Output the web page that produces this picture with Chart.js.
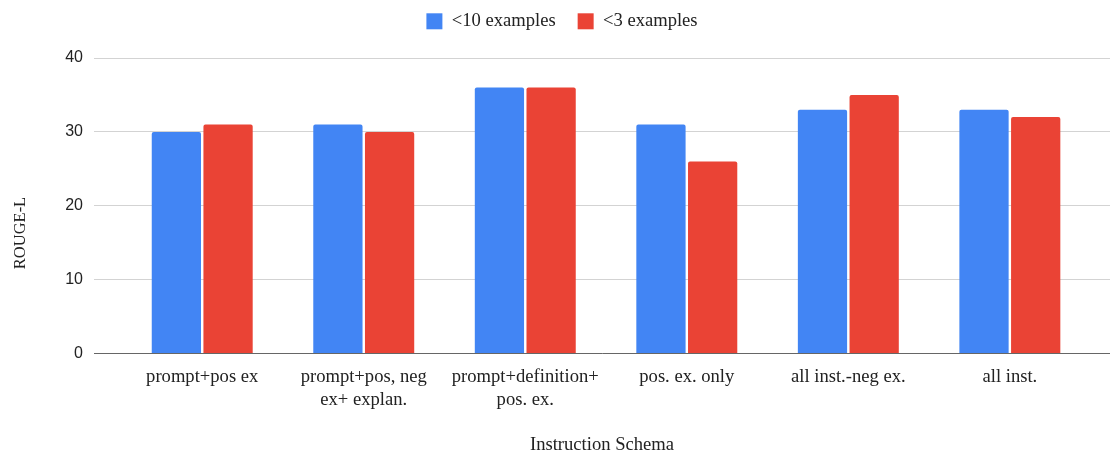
<!DOCTYPE html>
<html>
<head>
<meta charset="utf-8">
<script src="https://cdn.jsdelivr.net/npm/chart.js@4/dist/chart.umd.min.js"></script>
<style>
  html, body { margin: 0; padding: 0; background: #fff; }
  #wrap { width: 1110px; height: 456px; }
</style>
</head>
<body>
<div id="wrap"><canvas id="chart"></canvas></div>
<script>
// Instruction schema variants (x-axis labels, one entry per line)
const categories = [
  ['prompt+pos ex'],
  ['prompt+pos, neg', 'ex+ explan.'],
  ['prompt+definition+', 'pos. ex.'],
  ['pos. ex. only'],
  ['all inst.-neg ex.'],
  ['all inst.']
];

// ROUGE-L scores per schema
const underTenExamples = [30, 31, 36, 31, 33, 33];
const underThreeExamples = [31, 30, 36, 26, 35, 32];

const seriesNames = ['<10 examples', '<3 examples'];
const yTicks = [0, 10, 20, 30, 40];

const SERIF = '"Liberation Serif", "Times New Roman", serif';
const SANS = '"Liberation Sans", Arial, sans-serif';
const TEXT = '#222';

const toPoints = vals => vals.map((v, i) => ({ x: i, y: v }));

// Keeps the legend row compact while spacing its items apart
const legendHeight = {
  id: 'legendHeight',
  beforeInit(chart) {
    const legend = chart.legend;
    if (!legend) return;
    const fit = legend.fit;
    legend.fit = function () {
      fit.call(this);
      this.height = 68;
    };
  }
};

// Vertical axis caption
const yCaption = {
  id: 'yCaption',
  afterDraw(chart) {
    const ctx = chart.ctx;
    ctx.save();
    ctx.translate(21, 233);
    ctx.rotate(-Math.PI / 2);
    ctx.font = '16.5px ' + SERIF;
    ctx.fillStyle = TEXT;
    ctx.textAlign = 'center';
    ctx.textBaseline = 'middle';
    ctx.fillText('ROUGE-L', 0, 0);
    ctx.restore();
  }
};

new Chart(document.getElementById('chart'), {
  type: 'bar',
  data: {
    datasets: [
      {
        label: seriesNames[0],
        data: toPoints(underTenExamples),
        backgroundColor: '#4285F4',
        borderWidth: 0,
        borderRadius: 2
      },
      {
        label: seriesNames[1],
        data: toPoints(underThreeExamples),
        backgroundColor: '#EA4335',
        borderWidth: 0,
        borderRadius: 2
      }
    ]
  },
  options: {
    responsive: true,
    maintainAspectRatio: false,
    animation: false,
    categoryPercentage: 0.64,
    barPercentage: 0.953,
    layout: { padding: { top: -10, left: 14, right: 0, bottom: 0 } },
    plugins: {
      legend: {
        position: 'top',
        labels: {
          boxWidth: 16,
          boxHeight: 16,
          padding: 22,
          color: TEXT,
          font: { family: SERIF, size: 18.6 }
        }
      },
      tooltip: { enabled: false }
    },
    scales: {
      x: {
        type: 'linear',
        offset: false,
        min: -0.67,
        max: 5.62,
        z: 1,
        afterBuildTicks: s => { s.ticks = categories.map((c, i) => ({ value: i })); },
        ticks: {
          autoSkip: false,
          maxRotation: 0,
          padding: 12,
          color: TEXT,
          font: { family: SERIF, size: 18.6, lineHeight: 1.24 },
          callback: v => categories[v]
        },
        grid: { display: false, drawTicks: false, offset: false },
        border: { display: true, color: '#666', width: 1 },
        title: {
          display: true,
          text: 'Instruction Schema',
          color: TEXT,
          font: { family: SERIF, size: 18.6 },
          padding: { top: 10, bottom: 0 }
        }
      },
      y: {
        min: 0,
        max: 40,
        afterBuildTicks: s => { s.ticks = yTicks.map(v => ({ value: v })); },
        afterFit: s => { s.width = 80; },
        ticks: {
          padding: 11,
          color: '#222',
          font: { family: SANS, size: 16 }
        },
        grid: { drawTicks: false, color: '#d3d3d3', lineWidth: 1 },
        border: { display: false }
      }
    }
  },
  plugins: [legendHeight, yCaption]
});
</script>
</body>
</html>
